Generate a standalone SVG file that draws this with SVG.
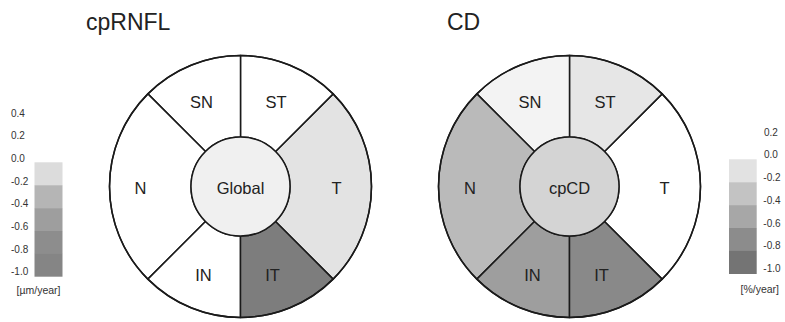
<svg xmlns="http://www.w3.org/2000/svg" width="785" height="322" viewBox="0 0 785 322">
<style>
  text { font-family: "Liberation Sans", Arial, sans-serif; fill: #222; }
  .title { font-size: 23px; }
  .lbl { font-size: 16.5px; text-anchor: middle; }
  .leg { font-size: 10px; fill: #333; }
  .seg { stroke: #1a1a1a; stroke-width: 1.5; stroke-linejoin: round; }
  .ring { fill: none; stroke: #1a1a1a; stroke-width: 1.5; }
</style>
<rect width="785" height="322" fill="#ffffff"/>

<text class="title" x="86" y="30">cpRNFL</text>
<text class="title" x="447" y="30">CD</text>

<!-- Left chart: cpRNFL -->
<g id="chart-cpRNFL" transform="translate(240.5,186.5)">
  <g id="L-T"><path class="seg" fill="#e3e3e3" d="M92.63,92.63 A131,131 0 0 0 92.63,-92.63 L35,-35 A49.5,49.5 0 0 1 35,35 Z"/><text class="lbl" x="96" y="7">T</text></g>
  <g id="L-ST"><path class="seg" fill="#ffffff" d="M92.63,-92.63 A131,131 0 0 0 0,-131 L0,-49.5 A49.5,49.5 0 0 1 35,-35 Z"/><text class="lbl" x="35.5" y="-78.5">ST</text></g>
  <g id="L-SN"><path class="seg" fill="#ffffff" d="M0,-131 A131,131 0 0 0 -92.63,-92.63 L-35,-35 A49.5,49.5 0 0 1 0,-49.5 Z"/><text class="lbl" x="-39" y="-78.5">SN</text></g>
  <g id="L-N"><path class="seg" fill="#ffffff" d="M-92.63,-92.63 A131,131 0 0 0 -92.63,92.63 L-35,35 A49.5,49.5 0 0 1 -35,-35 Z"/><text class="lbl" x="-100" y="7">N</text></g>
  <g id="L-IN"><path class="seg" fill="#ffffff" d="M-92.63,92.63 A131,131 0 0 0 0,131 L0,49.5 A49.5,49.5 0 0 1 -35,35 Z"/><text class="lbl" x="-37" y="94.5">IN</text></g>
  <g id="L-IT"><path class="seg" fill="#7d7d7d" d="M0,131 A131,131 0 0 0 92.63,92.63 L35,35 A49.5,49.5 0 0 1 0,49.5 Z"/><text class="lbl" x="32" y="94.5">IT</text></g>
  <g id="L-Global"><circle class="seg" r="49.5" fill="#f0f0f0"/><text class="lbl" x="0" y="7">Global</text></g>
  <circle class="ring" r="131"/>
</g>

<!-- Right chart: CD -->
<g id="chart-CD" transform="translate(569.5,186.5)">
  <g id="R-T"><path class="seg" fill="#ffffff" d="M92.63,92.63 A131,131 0 0 0 92.63,-92.63 L35,-35 A49.5,49.5 0 0 1 35,35 Z"/><text class="lbl" x="95" y="7">T</text></g>
  <g id="R-ST"><path class="seg" fill="#e6e6e6" d="M92.63,-92.63 A131,131 0 0 0 0,-131 L0,-49.5 A49.5,49.5 0 0 1 35,-35 Z"/><text class="lbl" x="35.5" y="-78.5">ST</text></g>
  <g id="R-SN"><path class="seg" fill="#f3f3f3" d="M0,-131 A131,131 0 0 0 -92.63,-92.63 L-35,-35 A49.5,49.5 0 0 1 0,-49.5 Z"/><text class="lbl" x="-39.5" y="-78.5">SN</text></g>
  <g id="R-N"><path class="seg" fill="#bababa" d="M-92.63,-92.63 A131,131 0 0 0 -92.63,92.63 L-35,35 A49.5,49.5 0 0 1 -35,-35 Z"/><text class="lbl" x="-99.5" y="7">N</text></g>
  <g id="R-IN"><path class="seg" fill="#9e9e9e" d="M-92.63,92.63 A131,131 0 0 0 0,131 L0,49.5 A49.5,49.5 0 0 1 -35,35 Z"/><text class="lbl" x="-37" y="94.5">IN</text></g>
  <g id="R-IT"><path class="seg" fill="#898989" d="M0,131 A131,131 0 0 0 92.63,92.63 L35,35 A49.5,49.5 0 0 1 0,49.5 Z"/><text class="lbl" x="32" y="94.5">IT</text></g>
  <g id="R-cpCD"><circle class="seg" r="49.5" fill="#d4d4d4"/><text class="lbl" x="0" y="7">cpCD</text></g>
  <circle class="ring" r="131"/>
</g>

<!-- Left legend -->
<g id="legend-left">
  <rect x="34.5" y="162.3" width="28" height="23" fill="#dcdcdc"/>
  <rect x="34.5" y="185.2" width="28" height="23" fill="#b5b5b5"/>
  <rect x="34.5" y="208.1" width="28" height="23" fill="#9e9e9e"/>
  <rect x="34.5" y="231" width="28" height="23" fill="#8d8d8d"/>
  <rect x="34.5" y="253.9" width="28" height="22.8" fill="#858585"/>
  <text class="leg" x="11" y="116.8">0.4</text>
  <text class="leg" x="11" y="139.2">0.2</text>
  <text class="leg" x="11" y="161.5">0.0</text>
  <text class="leg" x="11" y="184.5">-0.2</text>
  <text class="leg" x="11" y="207.2">-0.4</text>
  <text class="leg" x="11" y="229.8">-0.6</text>
  <text class="leg" x="11" y="252.5">-0.8</text>
  <text class="leg" x="11" y="275">-1.0</text>
  <text class="leg" x="16.5" y="294" style="font-size:10.5px">[µm/year]</text>
</g>

<!-- Right legend -->
<g id="legend-right">
  <rect x="729" y="159.3" width="27.7" height="23" fill="#e2e2e2"/>
  <rect x="729" y="182.2" width="27.7" height="23" fill="#c3c3c3"/>
  <rect x="729" y="205.1" width="27.7" height="23" fill="#a7a7a7"/>
  <rect x="729" y="228" width="27.7" height="23" fill="#8c8c8c"/>
  <rect x="729" y="250.9" width="27.7" height="23.1" fill="#747474"/>
  <text class="leg" x="764" y="135.8">0.2</text>
  <text class="leg" x="764" y="157.8">0.0</text>
  <text class="leg" x="763.3" y="180.8">-0.2</text>
  <text class="leg" x="763.3" y="203.8">-0.4</text>
  <text class="leg" x="763.3" y="226.6">-0.6</text>
  <text class="leg" x="763.3" y="249.4">-0.8</text>
  <text class="leg" x="763.3" y="272">-1.0</text>
  <text class="leg" x="740.5" y="293" style="font-size:10.5px">[%/year]</text>
</g>
</svg>
